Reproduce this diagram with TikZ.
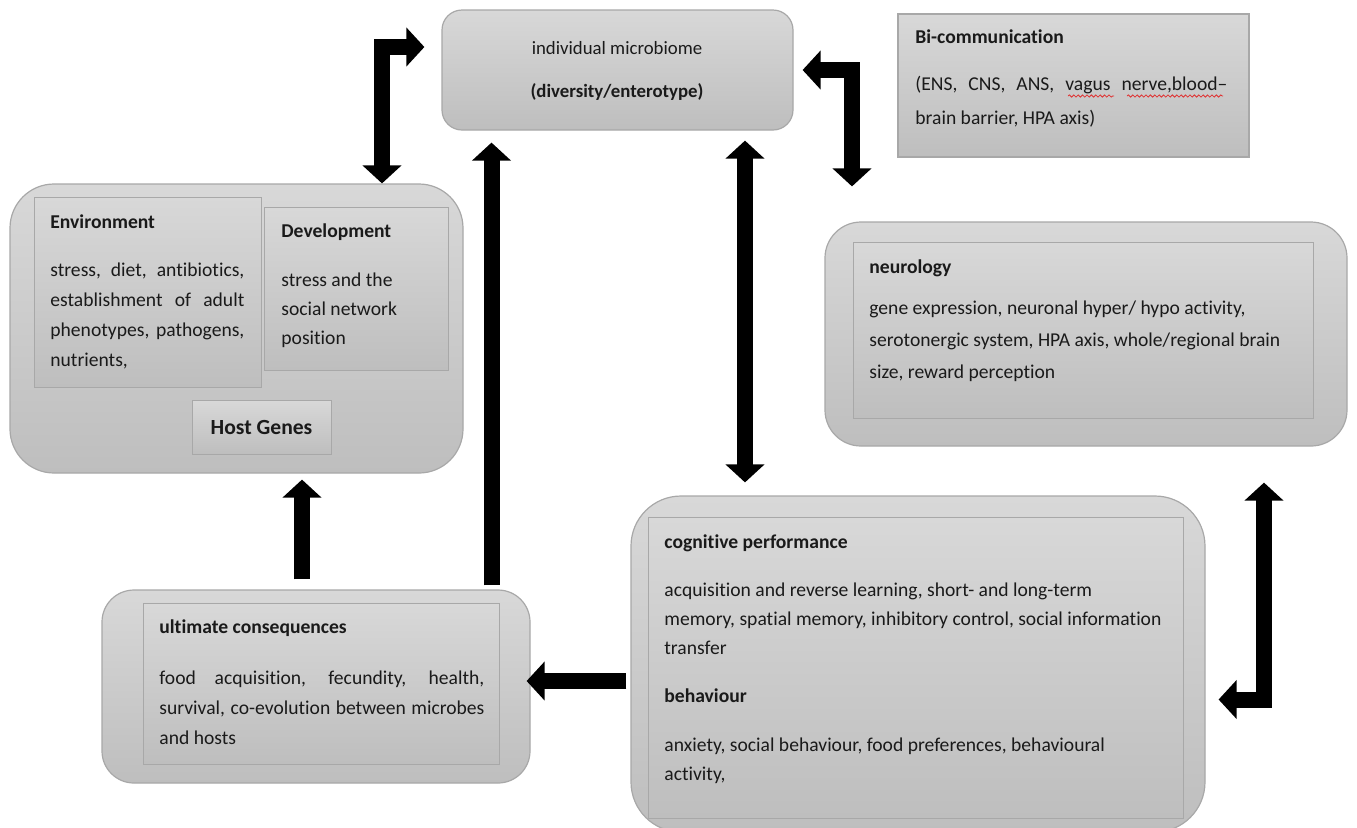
\documentclass[tikz,border=0pt]{standalone}
\usepackage{fontspec}
\setmainfont{Carlito}[Ligatures={TeX,NoCommon}]
\usetikzlibrary{arrows.meta,positioning,fit,calc,decorations.pathmorphing}
\definecolor{boxTop}{HTML}{D8D8D8}
\definecolor{boxBot}{HTML}{BEBEBE}
\definecolor{boxEdge}{HTML}{A8A8A8}
\definecolor{inkTxt}{HTML}{1A1A1A}
\definecolor{spellRed}{HTML}{E03030}

\begin{document}
\begin{tikzpicture}[x=0.5pt,y=-0.5pt,
  outerbox/.style={draw=boxEdge, line width=0.6pt, top color=boxTop, bottom color=boxBot, inner sep=0pt},
  innerbox/.style={draw=boxEdge, line width=0.5pt, top color=boxTop, bottom color=boxBot, inner sep=0pt},
  head/.style={font=\fontsize{9.8}{15}\selectfont\bfseries, text=inkTxt, inner sep=0pt, anchor=base west},
  body/.style={font=\fontsize{9.8}{15}\selectfont, text=inkTxt, inner sep=0pt, anchor=base west, align=flush left},
  fatarrow/.style={line width=8pt, line join=miter, draw=black},
  spell/.style={draw=spellRed, line width=0.4pt, decorate, decoration={snake, amplitude=0.55pt, segment length=2.2pt}},
  >={Triangle[width=19pt,length=9pt]},
]
\useasboundingbox (0,0) rectangle (1357,827);
\clip (0,0) rectangle (1357,827);
% ---- outer boxes ----
\node[outerbox, rounded corners=10pt, fit={(442,10)(793,130)}] (micro) {};
\node[outerbox, fit={(898,14)(1249,157)}] (bicom) {};
\node[outerbox, rounded corners=22pt, fit={(10,184)(463,473)}] (env) {};
\node[outerbox, rounded corners=18pt, fit={(825,222)(1347,446)}] (neuro) {};
\node[outerbox, rounded corners=25pt, fit={(631,496)(1205,832)}] (cog) {};
\node[outerbox, rounded corners=16pt, fit={(102,590)(530,783)}] (ult) {};
% ---- inner boxes ----
\node[innerbox, fit={(34,197)(261,387)}] (envIn) {};
\node[innerbox, fit={(264,207)(448,370)}] (devIn) {};
\node[innerbox, fit={(192,400)(331,454)}] (hostIn) {};
\node[innerbox, fit={(853,242)(1313,418)}] (neuroIn) {};
\node[innerbox, fit={(648,517)(1183,818)}] (cogIn) {};
\node[innerbox, fit={(143,603)(499,764)}] (ultIn) {};
% ---- texts ----
\node[body, font=\fontsize{9.4}{15}\selectfont, anchor=base] (microA) at (617,54) {individual microbiome};
\node[head, font=\fontsize{9.4}{15}\selectfont\bfseries, anchor=base] (microB) at (617,97) {(diversity/enterotype)};
\node[head] (bicomHead) at (915,43) {Bi-communication};
\node[body, font=\fontsize{9.8}{17}\selectfont, text width=156pt, align=justify] (bicomBody) at (915,90)
  {(ENS, CNS, ANS, vagus nerve,blood\textendash\linebreak brain barrier, HPA axis)};
\draw[spell] (1068,96) -- (1114,96);
\draw[spell] (1127,96) -- (1223,96);
\node[head] (envHead) at (50,228) {Environment};
\node[body, text width=97pt, align=justify] (envBody) at (50,276)
  {stress, diet, antibiotics,\linebreak establishment of adult\linebreak phenotypes, pathogens,\linebreak nutrients,};
\node[head] (devHead) at (281,237) {Development};
\node[body, font=\fontsize{9.8}{14.5}\selectfont, text width=80pt] (devBody) at (281,286) {stress and the\\social network\\position};
\node[font=\fontsize{10.8}{13}\selectfont\bfseries, text=inkTxt, inner sep=0pt] (hostTxt) at (hostIn.center) {Host Genes};
\node[head] (neuroHead) at (869,273) {neurology};
\node[body, font=\fontsize{9.8}{16}\selectfont, text width=215pt] (neuroBody) at (869,314)
  {gene expression, neuronal hyper/ hypo activity,\\serotonergic system, HPA axis, whole/regional brain\\size, reward perception};
\node[head] (cogHead) at (664,548) {cognitive performance};
\node[body, font=\fontsize{9.8}{14.5}\selectfont, text width=255pt] (cogBody) at (664,596)
  {acquisition and reverse learning, short- and long-term\\memory, spatial memory, inhibitory control, social information\\transfer};
\node[head] (behHead) at (664,702) {behaviour};
\node[body, font=\fontsize{9.8}{14.5}\selectfont, text width=255pt] (behBody) at (664,751)
  {anxiety, social behaviour, food preferences, behavioural\\activity,};
\node[head] (ultHead) at (159,633) {ultimate consequences};
\node[body, text width=162.5pt, align=justify] (ultBody) at (159,684)
  {food acquisition, fecundity, health,\linebreak survival, co-evolution between microbes\linebreak and hosts};
% ---- block arrows ----
\draw[fatarrow, <->] (env.north -| 382,0) |- ([xshift=-8.5pt,yshift=11.5pt]micro.west);
\draw[fatarrow, ->] ([yshift=2pt]ult.north -| 491.5,0) -- ([yshift=-6pt]micro.south -| 491.5,0);
\draw[fatarrow, <->] ([yshift=-5pt]micro.south -| 745,0) -- ([yshift=6.5pt]cog.north -| 745,0);
\draw[fatarrow, <->] ([xshift=4.5pt]micro.east) -| ([yshift=17.5pt]neuro.north -| 852,0);
\draw[fatarrow, ->] ([yshift=5pt]ult.north -| 302,0) -- ([yshift=-3pt]env.south -| 302,0);
\draw[fatarrow, ->] ([xshift=-2pt]cog.west |- 0,681) -- ([xshift=-2pt]ult.east |- 0,681);
\draw[fatarrow, <->] ([yshift=-18pt]neuro.south -| 1264,0) |- ([xshift=6.5pt]cog.east |- 0,699.5);
\end{tikzpicture}
\end{document}
